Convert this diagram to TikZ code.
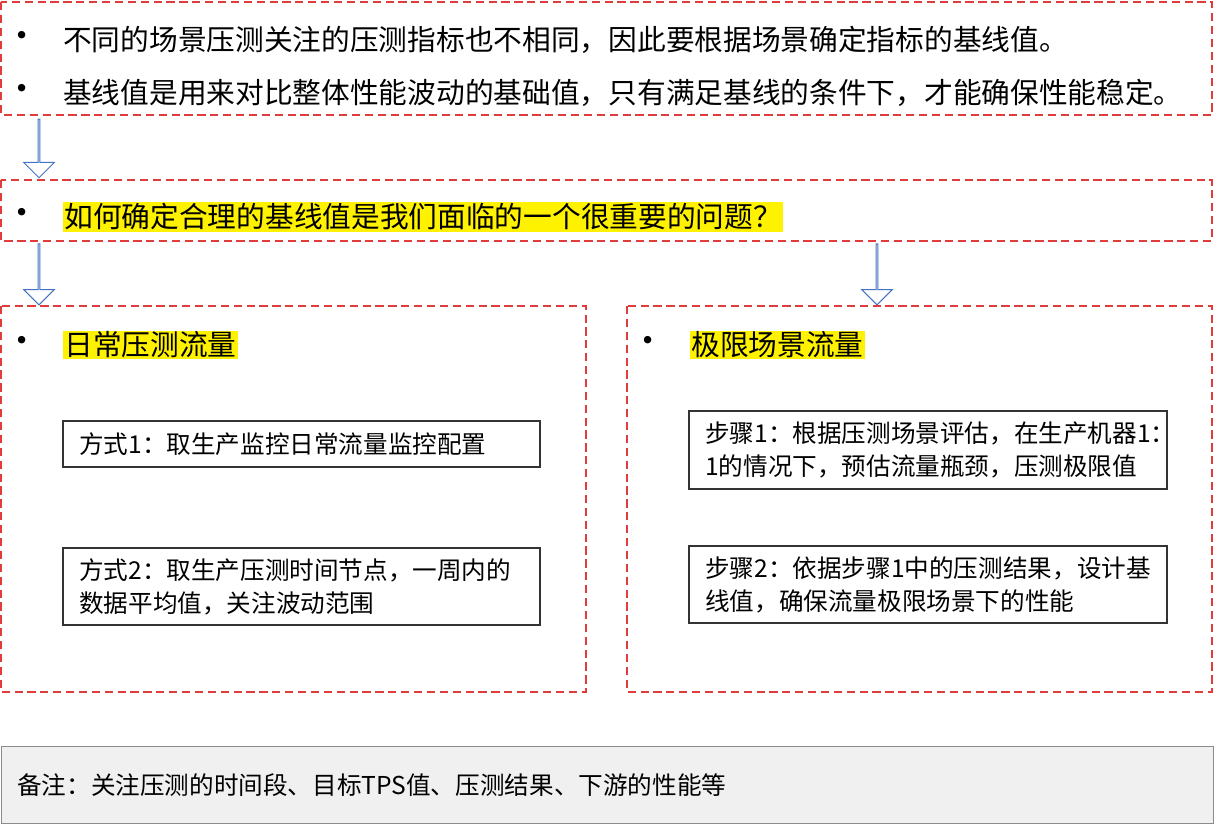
\documentclass[tikz,border=0pt]{standalone}
\usepackage{fontspec}
\setmainfont{Noto Sans CJK SC}
\usetikzlibrary{shapes.arrows}
\definecolor{dred}{HTML}{E03C3C}
\definecolor{ablue}{HTML}{4472C4}
\begin{document}
\begin{tikzpicture}[x=0.03cm,y=-0.03cm,
  dbox/.style={draw=dred,line width=1.3pt,dash pattern=on 7pt off 4pt},
  sbox/.style={draw=black!80,line width=2pt},
  txt/.style={anchor=west,inner sep=0pt,font=\fontsize{24.5pt}{29pt}\selectfont},
  hl/.style={txt,fill=yellow,inner sep=1pt},
  itxt/.style={anchor=west,align=left,inner sep=0pt,font=\fontsize{21pt}{28pt}\selectfont},
  bul/.style={anchor=center,inner sep=0pt,font=\fontsize{30pt}{30pt}\selectfont},
  harrow/.style={single arrow,draw=ablue,fill=white,line width=0.8pt,rotate=-90,minimum width=26pt,single arrow head extend=7pt,minimum height=52pt,inner sep=0pt}]
\useasboundingbox (0,0) rectangle (1214,824);
\draw[dbox] (1,2) rectangle (1212,115);
\node[bul] (b1) at (22,40) {•};
\node[txt] (t1) at (63,40) {不同的场景压测关注的压测指标也不相同，因此要根据场景确定指标的基线值。};
\node[bul] (b2) at (22,93) {•};
\node[txt] (t2) at (63,93) {基线值是用来对比整体性能波动的基础值，只有满足基线的条件下，才能确保性能稳定。};
\node[harrow,minimum height=50pt] (a1) at (39,148) {};
\draw[dbox] (1,180) rectangle (1212,241);
\node[bul] (b3) at (22,217) {•};
\node[hl] (t3) at (63,217) {如何确定合理的基线值是我们面临的一个很重要的问题？};
\node[harrow] (a2) at (39,274) {};
\node[harrow] (a3) at (877,274) {};
\draw[dbox] (1,306) rectangle (586,692);
\draw[dbox] (627,306) rectangle (1212,692);
\node[bul] (b4) at (22,345) {•};
\node[hl] (t4) at (63,345) {日常压测流量};
\node[bul] (b5) at (648,345) {•};
\node[hl] (t5) at (690,345) {极限场景流量};
\draw[sbox] (63,421) rectangle (540,467);
\node[itxt] (m1) at (79,444) {方式1：取生产监控日常流量监控配置};
\draw[sbox] (63,548) rectangle (540,625);
\node[itxt] (m2) at (79,587) {方式2：取生产压测时间节点，一周内的\\数据平均值，关注波动范围};
\draw[sbox] (689,411) rectangle (1167,489);
\node[itxt] (s1) at (705,450) {步骤1：根据压测场景评估，在生产机器1：\\1的情况下，预估流量瓶颈，压测极限值};
\draw[sbox] (689,546) rectangle (1167,623);
\node[itxt] (s2) at (705,585) {步骤2：依据步骤1中的压测结果，设计基\\线值，确保流量极限场景下的性能};
\draw[draw=black!45,fill=black!6,line width=0.8pt] (1,746) rectangle (1213,823);
\node[itxt] (n) at (17,785) {备注：关注压测的时间段、目标TPS值、压测结果、下游的性能等};
\end{tikzpicture}
\end{document}
